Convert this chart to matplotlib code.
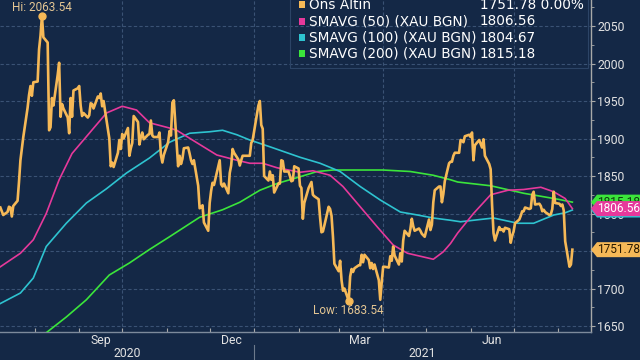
import matplotlib
matplotlib.use('Agg')
import matplotlib.pyplot as plt
import pandas as pd
from matplotlib.patches import Polygon, Rectangle
from matplotlib.transforms import blended_transform_factory

# ---------------- data ----------------
trade_start = '2020-07-08'
trade_end = '2021-08-11'
holidays = ['2020-12-25', '2021-01-01']

gold_close = [
    # Jul 2020
    1808, 1803, 1798, 1802, 1809, 1808, 1796, 1810, 1817, 1842, 1871, 1887, 1902,
    1941, 1958, 1970, 1957, 1975,
    # Aug 2020
    1976, 2019, 2037, 2063.54, 2035, 2028, 1911, 1915, 1954, 1944, 1985, 2001, 1929,
    1946, 1940, 1928, 1907, 1954, 1929, 1964, 1967,
    # Sep 2020
    1970, 1944, 1930, 1934, 1928, 1931, 1947, 1946, 1940, 1956, 1954, 1960, 1943,
    1950, 1912, 1900, 1863, 1868, 1862, 1881, 1898, 1886,
    # Oct 2020
    1906, 1900, 1914, 1877, 1887, 1894, 1930, 1922, 1892, 1902, 1908, 1899, 1905,
    1906, 1924, 1904, 1902, 1902, 1908, 1878, 1868, 1878,
    # Nov 2020
    1895, 1910, 1904, 1948, 1951, 1863, 1877, 1866, 1873, 1887, 1888, 1880, 1871,
    1866, 1871, 1837, 1807, 1808, 1811, 1788, 1777,
    # Dec 2020
    1814, 1830, 1841, 1838, 1863, 1871, 1839, 1836, 1840, 1827, 1854, 1864, 1886,
    1881, 1872, 1864, 1871, 1877, 1877, 1877, 1894, 1898,
    # Jan 2021
    1944, 1950, 1918, 1913, 1850, 1844, 1856, 1845, 1851, 1828, 1840, 1840, 1871,
    1870, 1856, 1856, 1850, 1843, 1844, 1863,
    # Feb 2021
    1860, 1837, 1834, 1793, 1814, 1834, 1838, 1842, 1825, 1823, 1819, 1795, 1775,
    1776, 1784, 1809, 1806, 1797, 1769, 1733,
    # Mar 2021
    1723, 1737, 1711, 1697, 1700, 1683.54, 1716, 1726, 1722, 1727, 1731, 1731, 1745,
    1735, 1745, 1738, 1727, 1734, 1726, 1732, 1711, 1685, 1708,
    # Apr 2021
    1729, 1729, 1728, 1743, 1737, 1756, 1744, 1732, 1747, 1736, 1764, 1777, 1770,
    1779, 1793, 1783, 1777, 1780, 1777, 1773, 1771, 1769,
    # May 2021
    1792, 1778, 1785, 1815, 1831, 1836, 1836, 1815, 1826, 1843, 1867, 1869, 1869,
    1877, 1881, 1881, 1898, 1897, 1895, 1903, 1905,
    # Jun 2021
    1902, 1908, 1871, 1891, 1898, 1893, 1888, 1899, 1877, 1866, 1859, 1811, 1774,
    1764, 1782, 1778, 1779, 1776, 1781, 1779, 1761, 1770,
    # Jul 2021
    1776, 1787, 1792, 1797, 1803, 1803, 1808, 1806, 1807, 1825, 1829, 1812, 1813,
    1810, 1803, 1805, 1802, 1798, 1799, 1806, 1829, 1814,
    # Aug 2021
    1813, 1810, 1812, 1804, 1763, 1729, 1732, 1751.78,
]

sma50_dates = ['2020-07-08', '2020-07-22', '2020-07-31', '2020-08-09', '2020-08-18',
               '2020-08-27', '2020-09-08', '2020-09-20', '2020-10-01', '2020-10-11',
               '2020-10-20', '2020-11-03', '2020-11-08', '2020-11-19', '2020-12-06',
               '2020-12-20', '2020-12-29', '2021-01-07', '2021-01-17', '2021-02-02',
               '2021-02-11', '2021-02-23', '2021-03-04', '2021-03-16', '2021-03-28',
               '2021-04-08', '2021-04-18', '2021-05-06', '2021-05-13', '2021-05-18',
               '2021-05-23', '2021-06-03', '2021-06-15', '2021-06-27', '2021-07-08',
               '2021-07-20', '2021-07-29', '2021-08-06', '2021-08-11']
sma50_values = [1729, 1747, 1765, 1800, 1845, 1880, 1907, 1934, 1943, 1938,
                1921, 1914, 1911, 1898, 1878, 1871, 1867, 1867, 1861, 1855,
                1857, 1851, 1836, 1809, 1782, 1758, 1747, 1739, 1749, 1760,
                1774, 1800, 1825, 1831, 1832, 1835, 1829, 1820, 1806.56]

sma100_dates = ['2020-07-08', '2020-07-22', '2020-07-31', '2020-08-09', '2020-08-23',
                '2020-09-06', '2020-09-20', '2020-10-04', '2020-10-20', '2020-11-03',
                '2020-11-17', '2020-12-01', '2020-12-10', '2020-12-20', '2020-12-29',
                '2021-01-12', '2021-02-02', '2021-02-16', '2021-03-02', '2021-03-16',
                '2021-03-30', '2021-04-13', '2021-04-25', '2021-05-06', '2021-05-18',
                '2021-05-25', '2021-06-03', '2021-06-17', '2021-07-04', '2021-07-15',
                '2021-07-29', '2021-08-06', '2021-08-11']
sma100_values = [1680, 1694, 1714, 1756, 1787, 1814, 1833, 1854, 1874, 1895,
                 1907, 1909, 1911, 1905, 1898, 1889, 1875, 1867, 1856, 1836,
                 1818, 1802, 1798, 1794, 1791, 1789, 1791, 1794, 1787, 1787,
                 1798, 1801, 1804.67]

sma200_dates = ['2020-08-09', '2020-08-23', '2020-09-06', '2020-09-22', '2020-10-06',
                '2020-10-20', '2020-11-03', '2020-11-24', '2020-12-10', '2020-12-22',
                '2021-01-05', '2021-01-17', '2021-02-02', '2021-02-14', '2021-02-25',
                '2021-04-01', '2021-04-20', '2021-05-06', '2021-05-18', '2021-05-23',
                '2021-06-15', '2021-07-08', '2021-08-01', '2021-08-11']
sma200_values = [1641, 1662, 1685, 1718, 1734, 1752, 1769, 1795, 1805, 1815,
                 1831, 1840, 1849, 1856, 1858, 1858, 1856, 1851, 1845, 1842,
                 1837, 1827, 1819, 1815.18]

legend_names = ['Ons Altın', 'SMAVG (50) (XAU BGN)', 'SMAVG (100) (XAU BGN)',
                'SMAVG (200) (XAU BGN)']
legend_values = ['1751.78 0.00%', '1806.56', '1804.67', '1815.18']
y_ticks = [1650, 1700, 1750, 1800, 1850, 1900, 1950, 2000, 2050]
month_labels = [('2020-09-16', 'Sep'), ('2020-12-16', 'Dec'),
                ('2021-03-16', 'Mar'), ('2021-06-16', 'Jun')]
year_labels = ['2020', '2021']

# ---------------- styling ----------------
BG = '#142846'
C_GOLD = '#f6b957'
C_PINK = '#e6399b'
C_CYAN = '#2ec3d0'
C_GREEN = '#3be53b'
C_GRID = '#3a5274'
C_TXT = '#e2e2e2'
C_SPINE = '#a8a9a8'
NUM_FONT = ['Roboto', 'DejaVu Sans']

dates = pd.bdate_range(trade_start, trade_end).drop(pd.to_datetime(holidays))
gold = pd.Series(gold_close, index=dates)

fig = plt.figure(figsize=(6.4, 3.6), dpi=100, facecolor=BG)
W, H = 640, 360
ax_left, ax_right, ax_bottom = 0, 591, 332
ax = fig.add_axes([ax_left / W, 1 - ax_bottom / H, (ax_right - ax_left) / W, ax_bottom / H])
ax.set_facecolor(BG)

ax.plot(pd.to_datetime(sma200_dates), sma200_values, color=C_GREEN, lw=1.2, zorder=3)
ax.plot(pd.to_datetime(sma100_dates), sma100_values, color=C_CYAN, lw=1.2, zorder=3)
ax.plot(pd.to_datetime(sma50_dates), sma50_values, color=C_PINK, lw=1.2, zorder=3)
ax.plot(gold.index, gold.values, color=C_GOLD, lw=1.9, zorder=4, solid_joinstyle='round')

# Hi / Low markers
hi_d = gold.idxmax(); hi_v = gold.max()
lo_d = gold.idxmin(); lo_v = gold.min()
ax.plot([hi_d, lo_d], [hi_v, lo_v], 'o', color=C_GOLD, ms=5, zorder=5)
ax.annotate(f'Hi: {hi_v:.2f}', (hi_d, hi_v), xytext=(0, 1.5), textcoords='offset points',
            ha='center', va='bottom', color='#e4c693', fontsize=8.5, family=NUM_FONT)
ax.annotate(f'Low: {lo_v:.2f}', (lo_d, lo_v), xytext=(0, -2.5), textcoords='offset points',
            ha='center', va='top', color='#e4c693', fontsize=8.5, family=NUM_FONT)

x0 = pd.Timestamp('2020-07-07 18:00')
x1 = pd.Timestamp('2021-08-24')
ax.set_xlim(x0, x1)
ax.set_ylim(1642, 2084.7)

# grid + ticks
ax.yaxis.tick_right()
ax.set_yticks(y_ticks)
ax.set_yticks(range(1675, 2084, 50), minor=True)
ax.tick_params(axis='y', which='major', colors=C_SPINE, labelcolor=C_TXT, labelsize=8.8,
               length=3, width=0.8, pad=1.5, direction='out')
for lab in ax.get_yticklabels():
    lab.set_family(NUM_FONT)
ax.tick_params(axis='y', which='minor', colors=C_SPINE, length=2, width=0.6, direction='out')
quarters = pd.to_datetime(['2020-10-01', '2021-01-01', '2021-04-01', '2021-07-01'])
months = pd.date_range('2020-08-01', '2021-08-01', freq='MS')
ax.set_xticks(quarters)
ax.set_xticks(months, minor=True)
ax.tick_params(axis='x', which='both', colors=C_SPINE, labelbottom=False,
               length=3, width=0.8, direction='in')
ax.grid(True, which='major', color=C_GRID, lw=0.8, linestyle=(0, (3, 2)))
ax.set_axisbelow(True)
for s in ['left', 'top']:
    ax.spines[s].set_visible(False)
ax.spines['right'].set_color(C_SPINE)
ax.spines['bottom'].set_color('#7d8a9c')
ax.spines['right'].set_linewidth(1.0)
ax.spines['bottom'].set_linewidth(1.0)

xt = ax.get_xaxis_transform()
for d, lab in month_labels:
    ax.text(pd.Timestamp(d), -0.026, lab, transform=xt, ha='center', va='center',
            color=C_TXT, fontsize=8.8, clip_on=False, family=NUM_FONT)
yb = pd.Timestamp('2021-01-01')
ax.text(x0 + (yb - x0) / 2, -0.066, year_labels[0], transform=xt, ha='center', va='center',
        color=C_TXT, fontsize=8.8, clip_on=False, family=NUM_FONT)
ax.text(yb + (x1 - yb) / 2, -0.066, year_labels[1], transform=xt, ha='center', va='center',
        color=C_TXT, fontsize=8.8, clip_on=False, family=NUM_FONT)
ax.plot([yb, yb], [-0.04, -0.09], transform=xt, color='#6d7a8c', lw=0.8, clip_on=False)

# legend (manual)
fig.add_artist(Rectangle((290 / W, 1 - 68 / H), (588 - 290) / W, 68 / H + 0.01,
                         transform=fig.transFigure, facecolor='none',
                         edgecolor='#2c4466', lw=0.8, zorder=6))
leg_colors = [C_GOLD, C_PINK, C_CYAN, C_GREEN]
for i, (name, val, c) in enumerate(zip(legend_names, legend_values, leg_colors)):
    yc = 1 - (5 + 16.3 * i) / H
    fig.add_artist(Rectangle((299 / W, yc - 3.5 / H), 6 / W, 7 / H, transform=fig.transFigure,
                             facecolor=c, edgecolor='none', zorder=7))
    fig.text(309 / W, yc, name, color='white', fontsize=9.8, va='center', ha='left', zorder=7)
    fig.text(480 / W, yc, val, color='white', fontsize=9.8, va='center', ha='left', zorder=7)

# right value tags
trans = blended_transform_factory(fig.transFigure, ax.transData)
upp = (2084.7 - 1642) / ax_bottom


def tag(v, face, tc, z):
    h = 7.5 * upp
    xa, xb, xc = 591 / W, 597 / W, 660 / W
    fig.add_artist(Polygon([(xa, v), (xb, v + h), (xc, v + h), (xc, v - h), (xb, v - h)],
                           closed=True, transform=trans, facecolor=face, edgecolor='none',
                           zorder=z, clip_on=False))
    fig.text(597 / W, v, f'{v:.2f}', transform=trans, color=tc, fontsize=8.6,
             va='center', ha='left', zorder=z, family=NUM_FONT)


tag(sma100_values[-1], C_CYAN, '#15304a', 10)
tag(sma200_values[-1], C_GREEN, '#0f3a10', 11)
tag(sma50_values[-1], C_PINK, 'white', 12)
tag(gold_close[-1], C_GOLD, '#2a1a00', 12)

fig.savefig('out.png', dpi=100, facecolor=BG)
